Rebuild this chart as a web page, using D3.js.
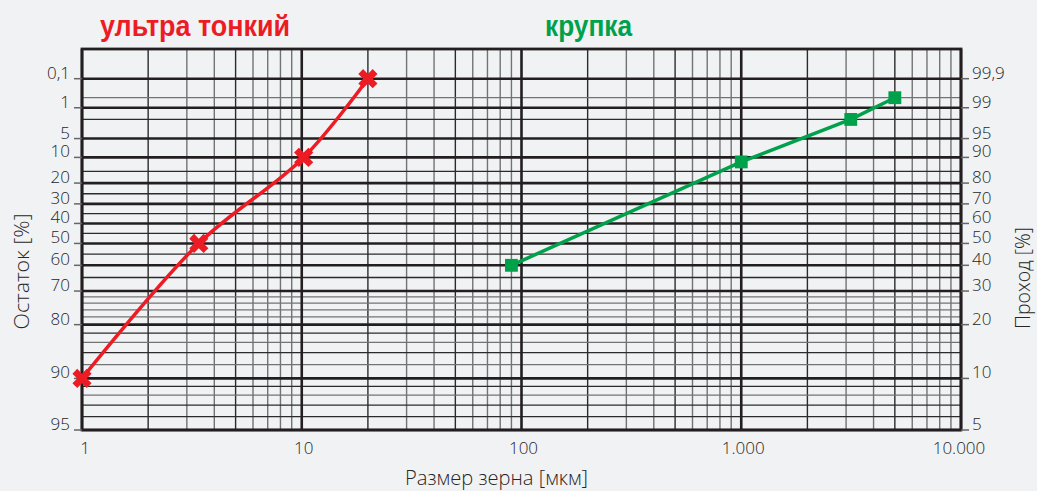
<!DOCTYPE html>
<html>
<head>
<meta charset="utf-8">
<script src="https://cdn.jsdelivr.net/npm/d3@7"></script>
<style>
  html, body { margin: 0; padding: 0; background: #f1f2f4; }
  svg { display: block; }
</style>
</head>
<body>
<div id="chart"></div>
<script>
// RRSB grid (Rosin-Rammler): residue vs grain size
const sizeTicks = [1, 10, 100, 1000, 10000];
const sizeLabels = ['1', '10', '100', '1.000', '10.000'];
const residueTicks = [0.1, 1, 5, 10, 20, 30, 40, 50, 60, 70, 80, 90, 95];
const residueLabels = ['0,1', '1', '5', '10', '20', '30', '40', '50', '60', '70', '80', '90', '95'];
const passLabels = ['99,9', '99', '95', '90', '80', '70', '60', '50', '40', '30', '20', '10', '5'];
const residueMinor = [0.5, 2, 15, 25, 35, 45, 55, 65, 72, 74, 76, 78, 82, 84, 86, 88, 91, 92, 93, 94];
const residueMinorGray = [0.5, 72, 74, 76, 78, 84, 88, 92];

const fineSize = [1, 3.4, 10.2, 20];
const fineResidue = [90, 50, 10, 0.1];
const coarseSize = [90, 1000, 3150, 5000];
const coarseResidue = [60, 11.5, 2, 0.5];

const width = 1037, height = 491;
const plotLeft = 82, plotRight = 961, plotTop = 49, plotBottom = 430;

const svg = d3.select('#chart').append('svg')
  .attr('width', width)
  .attr('height', height);

svg.append('rect').attr('width', width).attr('height', height).attr('fill', '#f1f2f4');

const x = d3.scaleLog().domain([1, 10000]).range([plotLeft, plotRight]);
// y position is linear in log10(ln(100/R))
const rr = r => Math.log10(-Math.log(r / 100));
const yLin = d3.scaleLinear().domain([rr(0.1), rr(95)]).range([78.7, plotBottom]);
const y = r => yLin(rr(r));

const grid = svg.append('g');

// vertical minor lines
const minorSizes = [];
[1, 10, 100, 1000].forEach(d => {
  for (let k = 2; k <= 9; k++) minorSizes.push(d * k);
});
grid.selectAll('line.vminor')
  .data(minorSizes)
  .join('line')
  .attr('x1', d => x(d)).attr('x2', d => x(d))
  .attr('y1', plotTop).attr('y2', plotBottom)
  .attr('stroke', d => {
    const k = Math.round(d / Math.pow(10, Math.floor(Math.log10(d))));
    return (k === 2 || k === 5) ? '#2b2b2b' : '#737373';
  })
  .attr('stroke-width', 1.4);

// horizontal minor lines
grid.selectAll('line.hminor')
  .data(residueMinor)
  .join('line')
  .attr('x1', plotLeft).attr('x2', plotRight)
  .attr('y1', d => y(d)).attr('y2', d => y(d))
  .attr('stroke', d => residueMinorGray.includes(d) ? '#737373' : '#2b2b2b')
  .attr('stroke-width', 1.3);

// horizontal major lines
grid.selectAll('line.hmajor')
  .data(residueTicks)
  .join('line')
  .attr('x1', plotLeft).attr('x2', plotRight)
  .attr('y1', d => y(d)).attr('y2', d => y(d))
  .attr('stroke', '#231f20')
  .attr('stroke-width', 2.6);

// vertical major lines
grid.selectAll('line.vmajor')
  .data(sizeTicks)
  .join('line')
  .attr('x1', d => x(d)).attr('x2', d => x(d))
  .attr('y1', plotTop).attr('y2', plotBottom)
  .attr('stroke', '#231f20')
  .attr('stroke-width', 2.6);

// frame
svg.append('rect')
  .attr('x', plotLeft).attr('y', plotTop)
  .attr('width', plotRight - plotLeft).attr('height', plotBottom - plotTop)
  .attr('fill', 'none')
  .attr('stroke', '#231f20')
  .attr('stroke-width', 2.8);

const font = '"Open Sans", "DejaVu Sans", sans-serif';
const textColor = '#262626';

// left axis ticks + labels
const leftAxis = svg.append('g');
leftAxis.selectAll('line')
  .data(residueTicks)
  .join('line')
  .attr('x1', plotLeft - 8).attr('x2', plotLeft)
  .attr('y1', d => y(d)).attr('y2', d => y(d))
  .attr('stroke', '#666').attr('stroke-width', 1.5);
leftAxis.selectAll('text')
  .data(residueTicks)
  .join('text')
  .attr('x', 70)
  .attr('y', d => y(d))
  .attr('text-anchor', 'end')
  .style('font-family', font)
  .style('font-weight', 300)
  .style('font-size', '17px')
  .style('fill', textColor)
  .text((d, i) => residueLabels[i]);

// right axis ticks + labels
const rightAxis = svg.append('g');
rightAxis.selectAll('line')
  .data(residueTicks)
  .join('line')
  .attr('x1', plotRight).attr('x2', plotRight + 8)
  .attr('y1', d => y(d)).attr('y2', d => y(d))
  .attr('stroke', '#666').attr('stroke-width', 1.5);
rightAxis.selectAll('text')
  .data(residueTicks)
  .join('text')
  .attr('x', 972)
  .attr('y', d => y(d))
  .style('font-family', font)
  .style('font-weight', 300)
  .style('font-size', '17px')
  .style('fill', textColor)
  .text((d, i) => passLabels[i]);

// bottom labels
svg.append('g').selectAll('text')
  .data(sizeTicks)
  .join('text')
  .attr('x', (d, i) => x(d) + (i === 0 ? 3 : (i === 4 ? -2 : 2)))
  .attr('y', 454)
  .attr('text-anchor', 'middle')
  .style('font-family', font)
  .style('font-weight', 300)
  .style('font-size', '17px')
  .style('fill', textColor)
  .text((d, i) => sizeLabels[i]);

// axis titles
svg.append('text')
  .attr('transform', 'translate(29,271.5) rotate(-90)')
  .attr('text-anchor', 'middle')
  .attr('textLength', 116).attr('lengthAdjust', 'spacingAndGlyphs')
  .style('font-family', font)
  .style('font-weight', 300)
  .style('font-size', '19.5px')
  .style('fill', textColor)
  .text('Остаток [%]');

svg.append('text')
  .attr('transform', 'translate(1030,278) rotate(-90)')
  .attr('text-anchor', 'middle')
  .attr('textLength', 102).attr('lengthAdjust', 'spacingAndGlyphs')
  .style('font-family', font)
  .style('font-weight', 300)
  .style('font-size', '19.5px')
  .style('fill', textColor)
  .text('Проход [%]');

svg.append('text')
  .attr('x', 496.5).attr('y', 485)
  .attr('text-anchor', 'middle')
  .attr('textLength', 183).attr('lengthAdjust', 'spacingAndGlyphs')
  .style('font-family', font)
  .style('font-weight', 300)
  .style('font-size', '19.5px')
  .style('fill', textColor)
  .text('Размер зерна [мкм]');

// series titles
svg.append('text')
  .attr('x', 100).attr('y', 36)
  .attr('textLength', 190).attr('lengthAdjust', 'spacingAndGlyphs')
  .style('font-family', '"Liberation Sans Narrow", "Liberation Sans", Arial, sans-serif')
  .style('font-weight', 'bold')
  .style('font-size', '30px')
  .style('fill', '#ed1c24')
  .text('ультра тонкий');

svg.append('text')
  .attr('x', 545).attr('y', 36)
  .attr('textLength', 87).attr('lengthAdjust', 'spacingAndGlyphs')
  .style('font-family', '"Liberation Sans Narrow", "Liberation Sans", Arial, sans-serif')
  .style('font-weight', 'bold')
  .style('font-size', '30px')
  .style('fill', '#00a14b')
  .text('крупка');

// fine series (red, smooth)
const fine = fineSize.map((s, i) => [s, fineResidue[i]]);
svg.append('path')
  .datum(fine)
  .attr('d', d3.line().x(d => x(d[0])).y(d => y(d[1])).curve(d3.curveCatmullRom.alpha(0.5)))
  .attr('fill', 'none')
  .attr('stroke', '#ed1c24')
  .attr('stroke-width', 3.5);

svg.append('g').selectAll('path')
  .data(fine)
  .join('path')
  .attr('transform', d => `translate(${x(d[0])},${y(d[1])}) rotate(45)`)
  .attr('d', d3.symbol(d3.symbolCross, 230))
  .attr('fill', '#ed1c24');

// coarse series (green, straight)
const coarse = coarseSize.map((s, i) => [s, coarseResidue[i]]);
svg.append('path')
  .datum(coarse)
  .attr('d', d3.line().x(d => x(d[0])).y(d => y(d[1])))
  .attr('fill', 'none')
  .attr('stroke', '#00a14b')
  .attr('stroke-width', 3.5);

svg.append('g').selectAll('path')
  .data(coarse)
  .join('path')
  .attr('transform', d => `translate(${x(d[0])},${y(d[1])})`)
  .attr('d', d3.symbol(d3.symbolSquare, 165))
  .attr('fill', '#00a14b');
</script>
</body>
</html>
